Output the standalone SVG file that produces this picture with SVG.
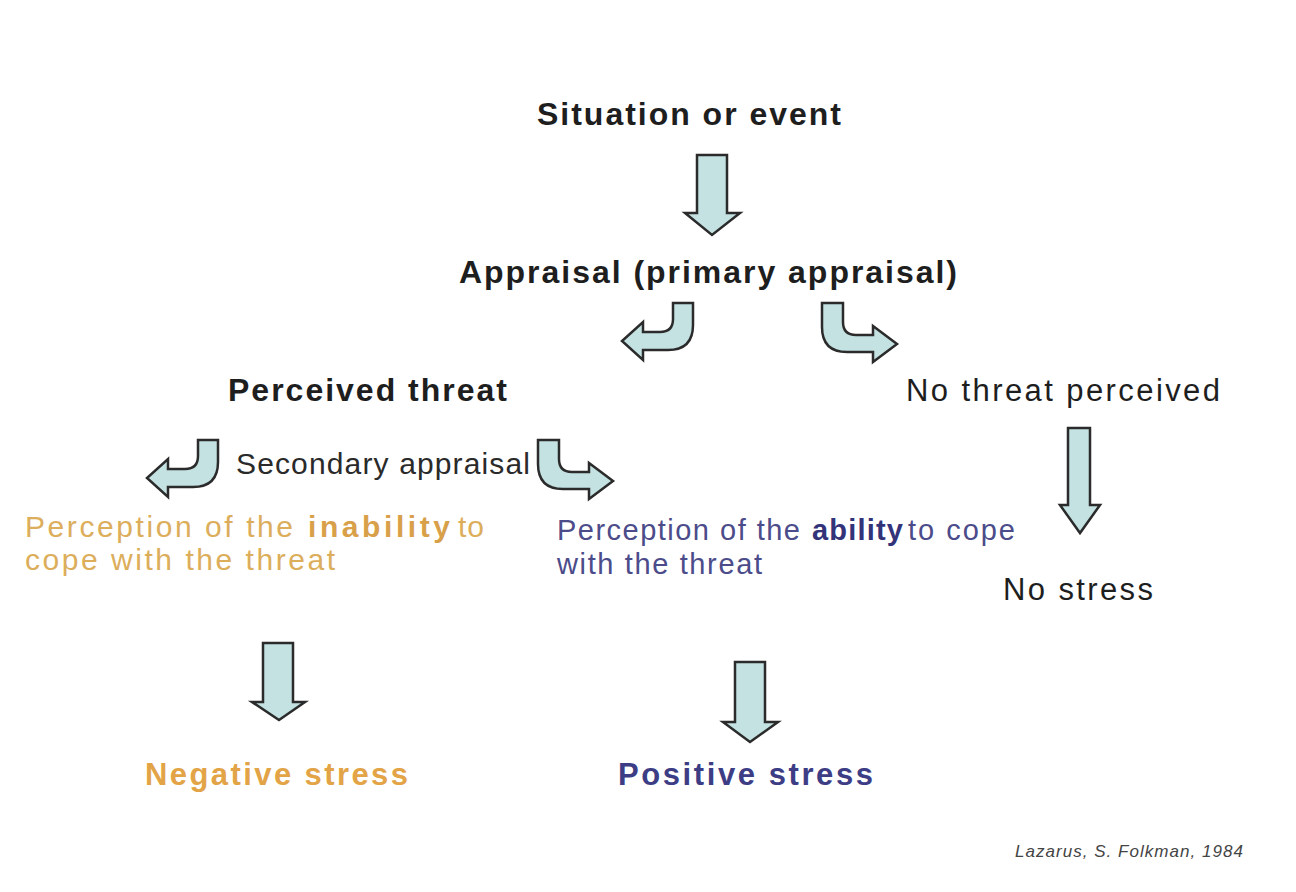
<svg xmlns="http://www.w3.org/2000/svg" width="1296" height="892" viewBox="0 0 1296 892">
  <defs>
    <style>
      .arrow { fill: #c4e2e2; stroke: #2b2b2b; stroke-width: 2.5; stroke-linejoin: miter; }
      text { font-family: "Liberation Sans", Arial, sans-serif; }
      .head { font-size: 32px; font-weight: bold; fill: #1e1e1e; }
      .plain { font-size: 31px; fill: #1e1e1e; }
      .sec { font-size: 30px; fill: #2a2a2a; }
      .orange { font-size: 30px; fill: #dcae5c; }
      .orange-b { font-size: 30px; font-weight: bold; fill: #d9a04a; }
      .blue { font-size: 29px; fill: #4c4c8a; }
      .blue-b { font-size: 29px; font-weight: bold; fill: #33337a; }
      .neg { font-size: 31px; font-weight: bold; fill: #e2a446; }
      .pos { font-size: 31px; font-weight: bold; fill: #3d3d85; }
      .cite { font-size: 17px; font-style: italic; fill: #444; }
    </style>
    <!-- hooked arrow bending down then left -->
    <path id="hook-left" class="arrow" d="M693,303 L693,325 Q693,350 668,350 L643,350 L643,360 L622,341 L643,322 L643,332 L660,332 Q673,332 673,319 L673,303 Z"/>
    <!-- hooked arrow bending down then right -->
    <path id="hook-right" class="arrow" d="M822,303 L822,327 Q822,352 847,352 L873,352 L873,362 L897,344 L873,326 L873,335 L856,335 Q843,335 843,322 L843,303 Z"/>
  </defs>

  <rect width="1296" height="892" fill="#ffffff"/>

  <g id="connectors">
    <!-- situation -> appraisal -->
    <path class="arrow" d="M697,155 L727,155 L727,213 L740,213 L712,235 L685,213 L697,213 Z"/>
    <!-- appraisal branches -->
    <use href="#hook-left"/>
    <use href="#hook-right"/>
    <!-- secondary appraisal branches -->
    <use href="#hook-left" transform="translate(-475,137)"/>
    <use href="#hook-right" transform="translate(-284,137)"/>
    <!-- no threat -> no stress -->
    <path class="arrow" d="M1068,428 L1090,428 L1090,505 L1100,505 L1080,533 L1060,505 L1068,505 Z"/>
    <!-- inability -> negative stress -->
    <path class="arrow" d="M263,643 L293,643 L293,702 L305,702 L279,720 L252,702 L263,702 Z"/>
    <!-- ability -> positive stress -->
    <path class="arrow" d="M735,662 L765,662 L765,722 L778,722 L750,742 L723,722 L735,722 Z"/>
  </g>

  <g id="situation">
    <text class="head" x="537" y="125" textLength="304" lengthAdjust="spacing">Situation or event</text>
  </g>

  <g id="appraisal">
    <text class="head" x="459" y="283" textLength="498" lengthAdjust="spacing">Appraisal (primary appraisal)</text>
  </g>

  <g id="perceived-threat">
    <text class="head" x="228" y="401" textLength="279" lengthAdjust="spacing">Perceived threat</text>
  </g>

  <g id="no-threat">
    <text class="plain" x="906" y="401" textLength="314" lengthAdjust="spacing">No threat perceived</text>
  </g>

  <g id="secondary-appraisal">
    <text class="sec" x="236" y="474" textLength="294" lengthAdjust="spacing">Secondary appraisal</text>
  </g>

  <g id="inability">
    <text class="orange" x="25" y="537" textLength="268" lengthAdjust="spacing">Perception of the</text>
    <text class="orange-b" x="308" y="537" textLength="142" lengthAdjust="spacing">inability</text>
    <text class="orange" x="458" y="537" textLength="26" lengthAdjust="spacing">to</text>
    <text class="orange" x="25" y="570" textLength="310" lengthAdjust="spacing">cope with the threat</text>
  </g>

  <g id="ability">
    <text class="blue" x="557" y="540" textLength="243" lengthAdjust="spacing">Perception of the</text>
    <text class="blue-b" x="812" y="540" textLength="91" lengthAdjust="spacing">ability</text>
    <text class="blue" x="908" y="540" textLength="107" lengthAdjust="spacing">to cope</text>
    <text class="blue" x="557" y="574" textLength="205" lengthAdjust="spacing">with the threat</text>
  </g>

  <g id="no-stress">
    <text class="plain" x="1003" y="600" textLength="150" lengthAdjust="spacing">No stress</text>
  </g>

  <g id="negative-stress">
    <text class="neg" x="145" y="785" textLength="263" lengthAdjust="spacing">Negative stress</text>
  </g>

  <g id="positive-stress">
    <text class="pos" x="618" y="785" textLength="255" lengthAdjust="spacing">Positive stress</text>
  </g>

  <g id="citation">
    <text class="cite" x="1015" y="857" textLength="228" lengthAdjust="spacing">Lazarus, S. Folkman, 1984</text>
  </g>
</svg>
